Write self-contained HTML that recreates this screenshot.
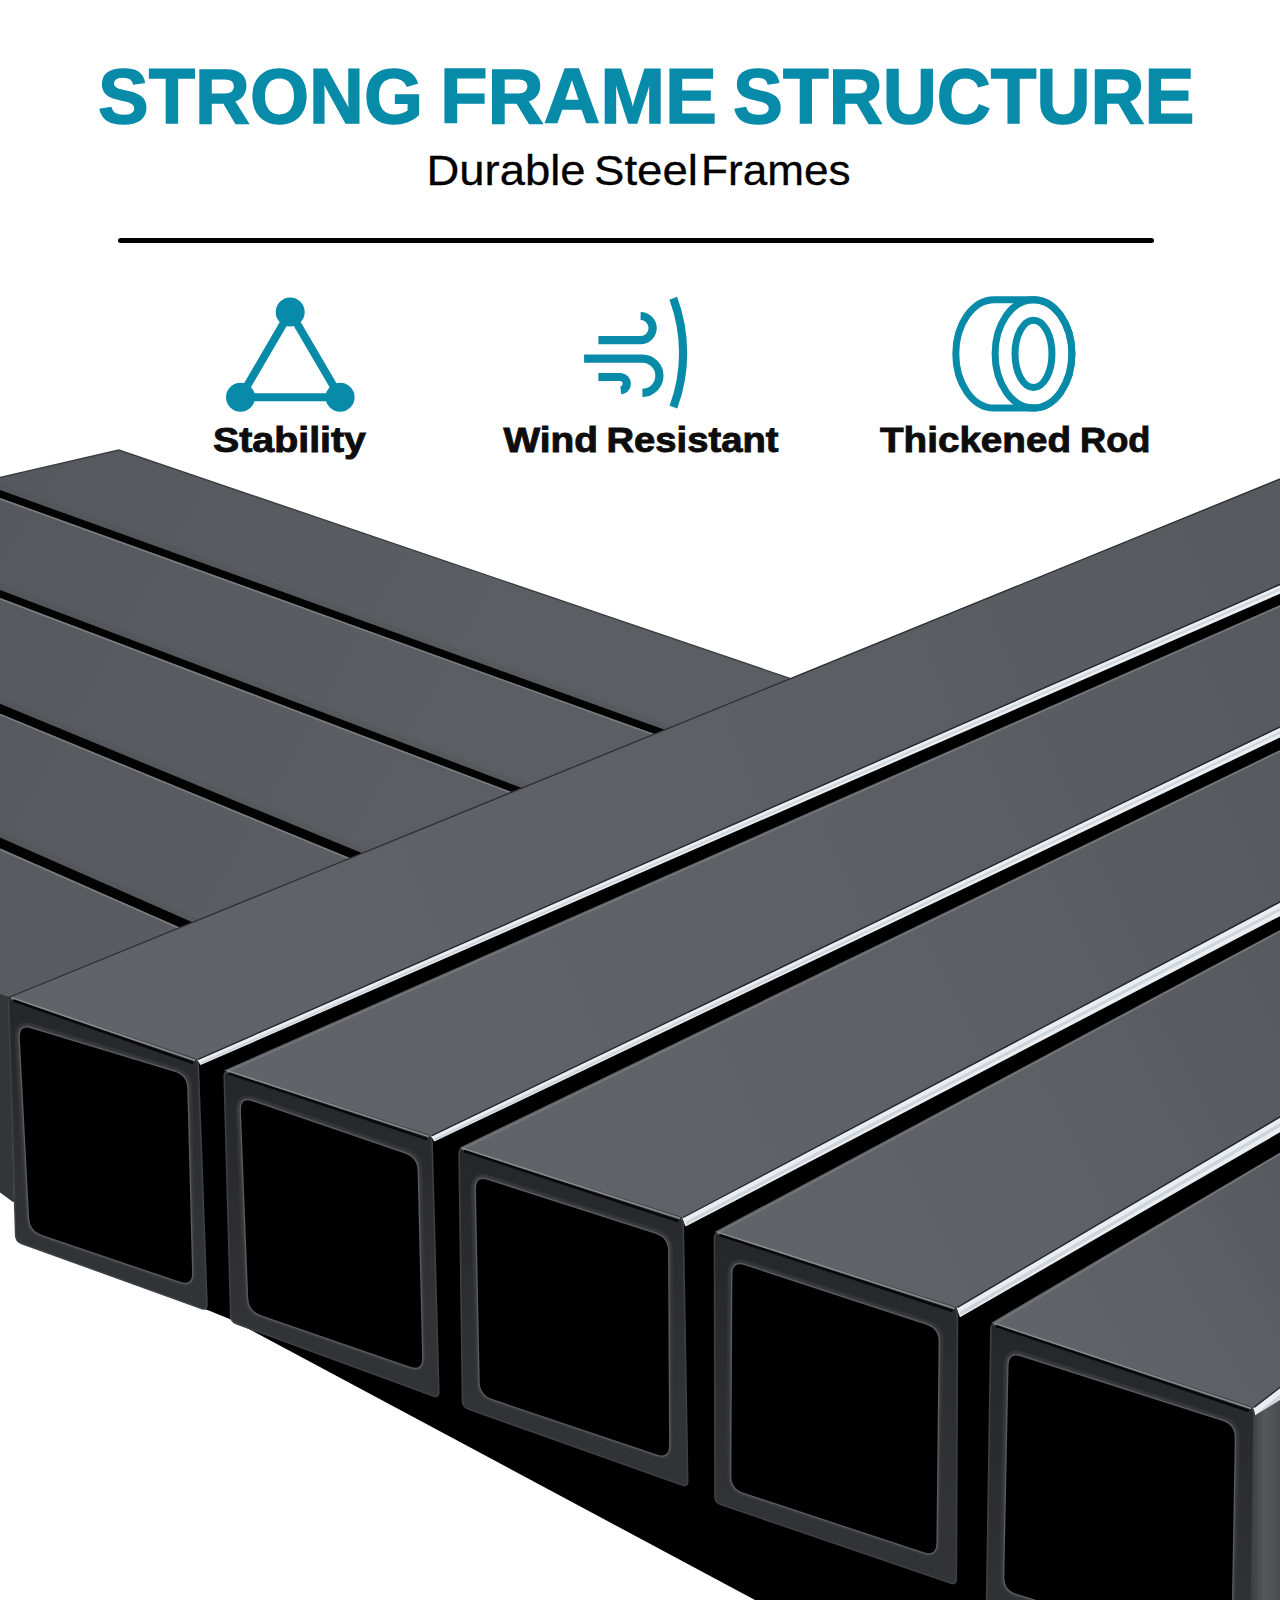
<!DOCTYPE html>
<html><head><meta charset="utf-8"><style>
html,body{margin:0;padding:0;background:#fff;width:1280px;height:1600px;overflow:hidden}
svg{display:block}
</style></head><body>
<svg width="1280" height="1600" viewBox="0 0 1280 1600">
<defs><linearGradient id="gback" gradientUnits="userSpaceOnUse" x1="0" y1="450" x2="800" y2="900"><stop offset="0" stop-color="#55585c"/><stop offset="0.5" stop-color="#5a5d61"/><stop offset="1" stop-color="#5c5f63"/></linearGradient>
<linearGradient id="gf0" gradientUnits="userSpaceOnUse" x1="8.5" y1="997.5" x2="1280" y2="479"><stop offset="0" stop-color="#606368"/><stop offset="0.45" stop-color="#5e6166"/><stop offset="1" stop-color="#56595e"/></linearGradient>
<linearGradient id="gf1" gradientUnits="userSpaceOnUse" x1="224" y1="1070.5" x2="1280" y2="605"><stop offset="0" stop-color="#606368"/><stop offset="0.45" stop-color="#5e6166"/><stop offset="1" stop-color="#56595e"/></linearGradient>
<linearGradient id="gf2" gradientUnits="userSpaceOnUse" x1="459" y1="1148" x2="1280" y2="750"><stop offset="0" stop-color="#606368"/><stop offset="0.45" stop-color="#5e6166"/><stop offset="1" stop-color="#56595e"/></linearGradient>
<linearGradient id="gf3" gradientUnits="userSpaceOnUse" x1="714.5" y1="1232" x2="1280" y2="930"><stop offset="0" stop-color="#606368"/><stop offset="0.45" stop-color="#5e6166"/><stop offset="1" stop-color="#56595e"/></linearGradient>
<linearGradient id="gf4" gradientUnits="userSpaceOnUse" x1="991" y1="1323" x2="1280" y2="1152.5"><stop offset="0" stop-color="#606368"/><stop offset="0.45" stop-color="#5e6166"/><stop offset="1" stop-color="#56595e"/></linearGradient>
<linearGradient id="gside" gradientUnits="userSpaceOnUse" x1="1250" y1="0" x2="1280" y2="0"><stop offset="0" stop-color="#3a3c40"/><stop offset="0.5" stop-color="#55585c"/><stop offset="1" stop-color="#4a4c50"/></linearGradient>
<linearGradient id="gfr0" gradientUnits="userSpaceOnUse" x1="8.5" y1="997.5" x2="15.9" y2="1241.4"><stop offset="0" stop-color="#252629"/><stop offset="1" stop-color="#323336"/></linearGradient>
<linearGradient id="gfr1" gradientUnits="userSpaceOnUse" x1="224" y1="1070.5" x2="230.9" y2="1321.6"><stop offset="0" stop-color="#252629"/><stop offset="1" stop-color="#323336"/></linearGradient>
<linearGradient id="gfr2" gradientUnits="userSpaceOnUse" x1="459" y1="1148" x2="462.6" y2="1407"><stop offset="0" stop-color="#252629"/><stop offset="1" stop-color="#323336"/></linearGradient>
<linearGradient id="gfr3" gradientUnits="userSpaceOnUse" x1="714.5" y1="1232" x2="715" y2="1502.5"><stop offset="0" stop-color="#252629"/><stop offset="1" stop-color="#323336"/></linearGradient>
<linearGradient id="gfr4" gradientUnits="userSpaceOnUse" x1="991" y1="1323" x2="986" y2="1640"><stop offset="0" stop-color="#252629"/><stop offset="1" stop-color="#323336"/></linearGradient></defs>
<rect width="1280" height="1600" fill="#fff"/>
<polygon points="0.0,477.5 118.8,450.0 790.6,678.6 8.5,997.5 0.0,995.0" fill="url(#gback)"/>
<polyline points="0.0,477.5 118.8,450.0 790.6,678.6" fill="none" stroke="#3c3e42" stroke-width="1.4"/>
<polygon points="0.0,994.0 9.0,997.0 14.0,1202.0 13.0,1202.0 0.0,1192.5" fill="#333538"/>
<polygon points="0.0,484.0 900.0,808.6 900.0,814.6 0.0,490.0" fill="#4c4f53" opacity="0.3"/>
<polygon points="0.0,490.0 900.0,814.6 900.0,822.6 0.0,498.0" fill="#030303"/>
<line x1="0" y1="498.8" x2="900" y2="823.4" stroke="#7a7d81" stroke-width="1.6"/>
<polygon points="0.0,584.0 900.0,925.4 900.0,931.4 0.0,590.0" fill="#4c4f53" opacity="0.3"/>
<polygon points="0.0,590.0 900.0,931.4 900.0,939.4 0.0,598.0" fill="#030303"/>
<line x1="0" y1="598.8" x2="900" y2="940.2" stroke="#7a7d81" stroke-width="1.6"/>
<polygon points="0.0,697.8 900.0,1069.1 900.0,1075.1 0.0,703.8" fill="#4c4f53" opacity="0.3"/>
<polygon points="0.0,703.8 900.0,1075.1 900.0,1085.1 0.0,713.8" fill="#030303"/>
<line x1="0" y1="714.5" x2="900" y2="1085.9" stroke="#7a7d81" stroke-width="1.6"/>
<polygon points="0.0,831.5 900.0,1227.5 900.0,1233.5 0.0,837.5" fill="#4c4f53" opacity="0.3"/>
<polygon points="0.0,837.5 900.0,1233.5 900.0,1244.5 0.0,848.5" fill="#030303"/>
<line x1="0" y1="849.3" x2="900" y2="1245.3" stroke="#7a7d81" stroke-width="1.6"/>
<polygon points="8.5,997.5 1300.0,470.8 1300.0,1650.0 755.0,1600.0 232.0,1320.0 210.0,1311.0 17.0,1240.0 14.0,1202.0 9.0,997.0" fill="#000"/>
<polygon points="8.5,997.5 1300.0,470.8 1300.0,576.2 198.1,1060.0" fill="url(#gf0)"/>
<line x1="8.5" y1="997.5" x2="1300.0" y2="470.8" stroke="#2e3033" stroke-width="1.3"/>
<polygon points="197.1,1060.0 1300.0,576.2 1300.0,585.0 200.6,1065.1" fill="#e9eef3"/>
<line x1="198.1" y1="1059.4" x2="1300.0" y2="575.6" stroke="#26282b" stroke-width="1.4"/>
<line x1="201.1" y1="1063.0" x2="1300.0" y2="580.6" stroke="#c9ced4" stroke-width="1.93" opacity="0.8"/>
<polygon points="224.0,1070.5 1300.0,596.2 1300.0,717.9 431.9,1136.2" fill="url(#gf1)"/>
<line x1="227" y1="1071.7" x2="1300.0" y2="597.4" stroke="#75787c" stroke-width="1.5"/>
<polygon points="430.9,1136.2 1300.0,717.9 1300.0,727.9 434.4,1141.6" fill="#e9eef3"/>
<line x1="431.9" y1="1135.7" x2="1300.0" y2="717.3" stroke="#26282b" stroke-width="1.4"/>
<line x1="434.9" y1="1139.4" x2="1300.0" y2="722.9" stroke="#c9ced4" stroke-width="2.20" opacity="0.8"/>
<polygon points="459.0,1148.0 1300.0,740.3 1300.0,891.9 683.1,1218.1" fill="url(#gf2)"/>
<line x1="462" y1="1149.2" x2="1300.0" y2="741.5" stroke="#75787c" stroke-width="1.5"/>
<polygon points="682.1,1218.1 1300.0,891.9 1300.0,905.7 685.6,1226.6" fill="#e9eef3"/>
<line x1="683.1" y1="1217.5" x2="1300.0" y2="891.3" stroke="#26282b" stroke-width="1.4"/>
<line x1="686.1" y1="1223.1" x2="1300.0" y2="898.8" stroke="#c9ced4" stroke-width="3.02" opacity="0.8"/>
<polygon points="714.5,1232.0 1300.0,919.3 1300.0,1105.7 957.5,1308.0" fill="url(#gf3)"/>
<line x1="717.5" y1="1233.2" x2="1300.0" y2="920.5" stroke="#75787c" stroke-width="1.5"/>
<polygon points="956.5,1308.0 1300.0,1105.7 1300.0,1120.7 960.0,1317.3" fill="#e9eef3"/>
<line x1="957.5" y1="1307.4" x2="1300.0" y2="1105.1" stroke="#26282b" stroke-width="1.4"/>
<line x1="960.5" y1="1313.5" x2="1300.0" y2="1113.2" stroke="#c9ced4" stroke-width="3.30" opacity="0.8"/>
<polygon points="991.0,1323.0 1300.0,1140.7 1300.0,1372.6 1254.0,1408.0" fill="url(#gf4)"/>
<line x1="994" y1="1324.2" x2="1300.0" y2="1141.9" stroke="#75787c" stroke-width="1.5"/>
<polygon points="1253.0,1408.0 1300.0,1372.6 1300.0,1387.6 1256.5,1420.8" fill="#e9eef3"/>
<line x1="1254.0" y1="1407.4" x2="1300.0" y2="1372.0" stroke="#26282b" stroke-width="1.4"/>
<line x1="1257.0" y1="1415.5" x2="1300.0" y2="1380.1" stroke="#c9ced4" stroke-width="3.30" opacity="0.8"/>
<polygon points="1254.0,1416.0 1280.0,1400.0 1280.0,1600.0 1249.0,1600.0" fill="url(#gside)"/>
<path d="M8.7,1003.5 Q8.5,997.5 14.2,999.4 L192.4,1058.1 Q198.1,1060.0 198.3,1066.0 L207.0,1304.5 Q207.2,1310.5 201.6,1308.5 L21.5,1243.4 Q15.9,1241.4 15.7,1235.4 Z" fill="url(#gfr0)" stroke="#3e4044" stroke-width="1.6"/>
<line x1="11.5" y1="997.8" x2="195.1" y2="1060.3" stroke="#868a8e" stroke-width="1.8"/>
<line x1="13.5" y1="1000.5" x2="193.1" y2="1063.0" stroke="#080808" stroke-width="2.4"/>
<path d="M19.8,1037.6 Q19.1,1024.6 31.5,1028.4 L174.6,1071.8 Q187.0,1075.6 187.3,1088.6 L192.1,1273.0 Q192.4,1286.0 180.1,1281.8 L42.1,1235.0 Q29.8,1230.8 29.1,1217.8 Z" fill="none" stroke="#333438" stroke-width="10"/>
<path d="M19.8,1037.6 Q19.1,1024.6 31.5,1028.4 L174.6,1071.8 Q187.0,1075.6 187.3,1088.6 L192.1,1273.0 Q192.4,1286.0 180.1,1281.8 L42.1,1235.0 Q29.8,1230.8 29.1,1217.8 Z" fill="none" stroke="#3d3e42" stroke-width="5.5"/>
<path d="M19.8,1037.6 Q19.1,1024.6 31.5,1028.4 L174.6,1071.8 Q187.0,1075.6 187.3,1088.6 L192.1,1273.0 Q192.4,1286.0 180.1,1281.8 L42.1,1235.0 Q29.8,1230.8 29.1,1217.8 Z" fill="none" stroke="#5a5c60" stroke-width="2.6"/>
<path d="M19.8,1037.6 Q19.1,1024.6 31.5,1028.4 L174.6,1071.8 Q187.0,1075.6 187.3,1088.6 L192.1,1273.0 Q192.4,1286.0 180.1,1281.8 L42.1,1235.0 Q29.8,1230.8 29.1,1217.8 Z" fill="#000"/>
<path d="M224.2,1076.5 Q224.0,1070.5 229.7,1072.3 L426.2,1134.4 Q431.9,1136.2 432.1,1142.2 L438.8,1392.0 Q439.0,1398.0 433.4,1395.9 L236.5,1323.7 Q230.9,1321.6 230.7,1315.6 Z" fill="url(#gfr1)" stroke="#3e4044" stroke-width="1.6"/>
<line x1="227.0" y1="1070.8" x2="428.9" y2="1136.5" stroke="#868a8e" stroke-width="1.8"/>
<line x1="229.0" y1="1073.5" x2="426.9" y2="1139.2" stroke="#080808" stroke-width="2.4"/>
<path d="M240.9,1110.2 Q240.4,1097.2 252.7,1101.4 L405.0,1153.5 Q417.3,1157.7 417.6,1170.7 L422.2,1358.0 Q422.5,1371.0 410.2,1366.8 L261.0,1315.2 Q248.7,1311.0 248.2,1298.0 Z" fill="none" stroke="#333438" stroke-width="10"/>
<path d="M240.9,1110.2 Q240.4,1097.2 252.7,1101.4 L405.0,1153.5 Q417.3,1157.7 417.6,1170.7 L422.2,1358.0 Q422.5,1371.0 410.2,1366.8 L261.0,1315.2 Q248.7,1311.0 248.2,1298.0 Z" fill="none" stroke="#3d3e42" stroke-width="5.5"/>
<path d="M240.9,1110.2 Q240.4,1097.2 252.7,1101.4 L405.0,1153.5 Q417.3,1157.7 417.6,1170.7 L422.2,1358.0 Q422.5,1371.0 410.2,1366.8 L261.0,1315.2 Q248.7,1311.0 248.2,1298.0 Z" fill="none" stroke="#5a5c60" stroke-width="2.6"/>
<path d="M240.9,1110.2 Q240.4,1097.2 252.7,1101.4 L405.0,1153.5 Q417.3,1157.7 417.6,1170.7 L422.2,1358.0 Q422.5,1371.0 410.2,1366.8 L261.0,1315.2 Q248.7,1311.0 248.2,1298.0 Z" fill="#000"/>
<path d="M459.1,1154.0 Q459.0,1148.0 464.7,1149.8 L677.4,1216.3 Q683.1,1218.1 683.2,1224.1 L687.7,1481.0 Q687.8,1487.0 682.1,1485.0 L468.3,1409.0 Q462.6,1407.0 462.5,1401.0 Z" fill="url(#gfr2)" stroke="#3e4044" stroke-width="1.6"/>
<line x1="462.0" y1="1148.3" x2="680.1" y2="1218.4" stroke="#868a8e" stroke-width="1.8"/>
<line x1="464.0" y1="1151.0" x2="678.1" y2="1221.1" stroke="#080808" stroke-width="2.4"/>
<path d="M475.9,1189.0 Q475.6,1176.0 488.0,1180.0 L655.6,1233.7 Q668.0,1237.7 668.1,1250.7 L669.1,1445.6 Q669.2,1458.6 656.9,1454.5 L492.3,1399.1 Q480.0,1395.0 479.7,1382.0 Z" fill="none" stroke="#333438" stroke-width="10"/>
<path d="M475.9,1189.0 Q475.6,1176.0 488.0,1180.0 L655.6,1233.7 Q668.0,1237.7 668.1,1250.7 L669.1,1445.6 Q669.2,1458.6 656.9,1454.5 L492.3,1399.1 Q480.0,1395.0 479.7,1382.0 Z" fill="none" stroke="#3d3e42" stroke-width="5.5"/>
<path d="M475.9,1189.0 Q475.6,1176.0 488.0,1180.0 L655.6,1233.7 Q668.0,1237.7 668.1,1250.7 L669.1,1445.6 Q669.2,1458.6 656.9,1454.5 L492.3,1399.1 Q480.0,1395.0 479.7,1382.0 Z" fill="none" stroke="#5a5c60" stroke-width="2.6"/>
<path d="M475.9,1189.0 Q475.6,1176.0 488.0,1180.0 L655.6,1233.7 Q668.0,1237.7 668.1,1250.7 L669.1,1445.6 Q669.2,1458.6 656.9,1454.5 L492.3,1399.1 Q480.0,1395.0 479.7,1382.0 Z" fill="#000"/>
<path d="M714.5,1238.0 Q714.5,1232.0 720.2,1233.8 L951.8,1306.2 Q957.5,1308.0 957.5,1314.0 L956.3,1579.0 Q956.2,1585.0 950.6,1583.1 L720.7,1504.4 Q715.0,1502.5 715.0,1496.5 Z" fill="url(#gfr3)" stroke="#3e4044" stroke-width="1.6"/>
<line x1="717.5" y1="1232.3" x2="954.5" y2="1308.3" stroke="#868a8e" stroke-width="1.8"/>
<line x1="719.5" y1="1235.0" x2="952.5" y2="1311.0" stroke="#080808" stroke-width="2.4"/>
<path d="M732.4,1274.2 Q732.5,1261.2 744.9,1265.3 L926.4,1324.7 Q938.8,1328.8 938.6,1341.7 L936.4,1543.3 Q936.2,1556.2 923.9,1552.2 L743.6,1492.8 Q731.2,1488.8 731.3,1475.8 Z" fill="none" stroke="#333438" stroke-width="10"/>
<path d="M732.4,1274.2 Q732.5,1261.2 744.9,1265.3 L926.4,1324.7 Q938.8,1328.8 938.6,1341.7 L936.4,1543.3 Q936.2,1556.2 923.9,1552.2 L743.6,1492.8 Q731.2,1488.8 731.3,1475.8 Z" fill="none" stroke="#3d3e42" stroke-width="5.5"/>
<path d="M732.4,1274.2 Q732.5,1261.2 744.9,1265.3 L926.4,1324.7 Q938.8,1328.8 938.6,1341.7 L936.4,1543.3 Q936.2,1556.2 923.9,1552.2 L743.6,1492.8 Q731.2,1488.8 731.3,1475.8 Z" fill="none" stroke="#5a5c60" stroke-width="2.6"/>
<path d="M732.4,1274.2 Q732.5,1261.2 744.9,1265.3 L926.4,1324.7 Q938.8,1328.8 938.6,1341.7 L936.4,1543.3 Q936.2,1556.2 923.9,1552.2 L743.6,1492.8 Q731.2,1488.8 731.3,1475.8 Z" fill="#000"/>
<path d="M990.9,1329.0 Q991.0,1323.0 996.7,1324.8 L1248.3,1406.2 Q1254.0,1408.0 1253.9,1414.0 L1250.1,1714.0 Q1250.0,1720.0 1244.3,1718.3 L991.7,1641.7 Q986.0,1640.0 986.1,1634.0 Z" fill="url(#gfr4)" stroke="#3e4044" stroke-width="1.6"/>
<line x1="994.0" y1="1323.3" x2="1251.0" y2="1408.3" stroke="#868a8e" stroke-width="1.8"/>
<line x1="996.0" y1="1326.0" x2="1249.0" y2="1411.0" stroke="#080808" stroke-width="2.4"/>
<path d="M1008.5,1365.5 Q1008.8,1352.5 1021.1,1356.5 L1222.6,1421.0 Q1235.0,1425.0 1234.8,1438.0 L1231.2,1647.0 Q1231.0,1660.0 1218.6,1656.2 L1016.4,1593.8 Q1004.0,1590.0 1004.3,1577.0 Z" fill="none" stroke="#333438" stroke-width="10"/>
<path d="M1008.5,1365.5 Q1008.8,1352.5 1021.1,1356.5 L1222.6,1421.0 Q1235.0,1425.0 1234.8,1438.0 L1231.2,1647.0 Q1231.0,1660.0 1218.6,1656.2 L1016.4,1593.8 Q1004.0,1590.0 1004.3,1577.0 Z" fill="none" stroke="#3d3e42" stroke-width="5.5"/>
<path d="M1008.5,1365.5 Q1008.8,1352.5 1021.1,1356.5 L1222.6,1421.0 Q1235.0,1425.0 1234.8,1438.0 L1231.2,1647.0 Q1231.0,1660.0 1218.6,1656.2 L1016.4,1593.8 Q1004.0,1590.0 1004.3,1577.0 Z" fill="none" stroke="#5a5c60" stroke-width="2.6"/>
<path d="M1008.5,1365.5 Q1008.8,1352.5 1021.1,1356.5 L1222.6,1421.0 Q1235.0,1425.0 1234.8,1438.0 L1231.2,1647.0 Q1231.0,1660.0 1218.6,1656.2 L1016.4,1593.8 Q1004.0,1590.0 1004.3,1577.0 Z" fill="#000"/>
<g font-family="Liberation Sans, sans-serif">
<text x="98.00" y="122.7" font-size="77" font-weight="bold" fill="#078ba9" stroke="#078ba9" stroke-width="1.5" textLength="325.00" lengthAdjust="spacingAndGlyphs">STRONG</text>
<text x="440.00" y="122.7" font-size="77" font-weight="bold" fill="#078ba9" stroke="#078ba9" stroke-width="1.5" textLength="277.00" lengthAdjust="spacingAndGlyphs">FRAME</text>
<text x="733.00" y="122.7" font-size="77" font-weight="bold" fill="#078ba9" stroke="#078ba9" stroke-width="1.5" textLength="461.50" lengthAdjust="spacingAndGlyphs">STRUCTURE</text>
<text x="426.50" y="185" font-size="42.5" fill="#000" stroke="#000" stroke-width="0.3" textLength="159.00" lengthAdjust="spacingAndGlyphs">Durable</text>
<text x="594.00" y="185" font-size="42.5" fill="#000" stroke="#000" stroke-width="0.3" textLength="104.00" lengthAdjust="spacingAndGlyphs">Steel</text>
<text x="701.00" y="185" font-size="42.5" fill="#000" stroke="#000" stroke-width="0.3" textLength="149.50" lengthAdjust="spacingAndGlyphs">Frames</text>

<text x="213.00" y="452.3" font-size="35.2" font-weight="bold" fill="#0d0d0d" stroke="#0d0d0d" stroke-width="0.9" textLength="153.00" lengthAdjust="spacingAndGlyphs">Stability</text>
<text x="503.50" y="452.3" font-size="35.2" font-weight="bold" fill="#0d0d0d" stroke="#0d0d0d" stroke-width="0.9" textLength="94.50" lengthAdjust="spacingAndGlyphs">Wind</text>
<text x="606.50" y="452.3" font-size="35.2" font-weight="bold" fill="#0d0d0d" stroke="#0d0d0d" stroke-width="0.9" textLength="172.00" lengthAdjust="spacingAndGlyphs">Resistant</text>
<text x="880.00" y="452.3" font-size="35.2" font-weight="bold" fill="#0d0d0d" stroke="#0d0d0d" stroke-width="0.9" textLength="191.00" lengthAdjust="spacingAndGlyphs">Thickened</text>
<text x="1080.00" y="452.3" font-size="35.2" font-weight="bold" fill="#0d0d0d" stroke="#0d0d0d" stroke-width="0.9" textLength="70.50" lengthAdjust="spacingAndGlyphs">Rod</text>

</g>
<line x1="120.5" y1="240.5" x2="1151.5" y2="240.5" stroke="#000" stroke-width="5" stroke-linecap="round"/>
<g fill="none" stroke="#078ba9" stroke-width="8">
 <polygon points="290.2,312.1 240.5,397.2 340.1,397.2" stroke-linejoin="round"/>
</g>
<g fill="#078ba9">
 <circle cx="290.2" cy="312.1" r="14.5"/><circle cx="240.5" cy="397.2" r="14.5"/><circle cx="340.1" cy="397.2" r="14.5"/>
</g>
<g fill="none" stroke="#078ba9" stroke-width="8.2">
 <path d="M598.4,340.1 H640.6 A12.05,12.05 0 0 0 640.6,316"/>
 <path d="M584.1,358.7 H642.4 A17.05,17.05 0 0 1 642.4,392.8"/>
 <path d="M598.4,377 H620.8 A6.8,6.8 0 0 1 620.8,390.5"/>
 <path d="M673.25,298.25 A156.25,156.25 0 0 1 673.4,407.2"/>
</g>
<g fill="none" stroke="#078ba9" stroke-width="7">
 <path d="M994.2,299.65 H1033.5 A38.4,54.2 0 0 1 1033.5,408.05 H994.2 A38.4,54.2 0 0 1 994.2,299.65 Z"/>
 <ellipse cx="1033.5" cy="353.85" rx="38.4" ry="54.2"/>
 <ellipse cx="1033.5" cy="353.85" rx="18.46" ry="33.7"/>
</g>
</svg>
</body></html>
